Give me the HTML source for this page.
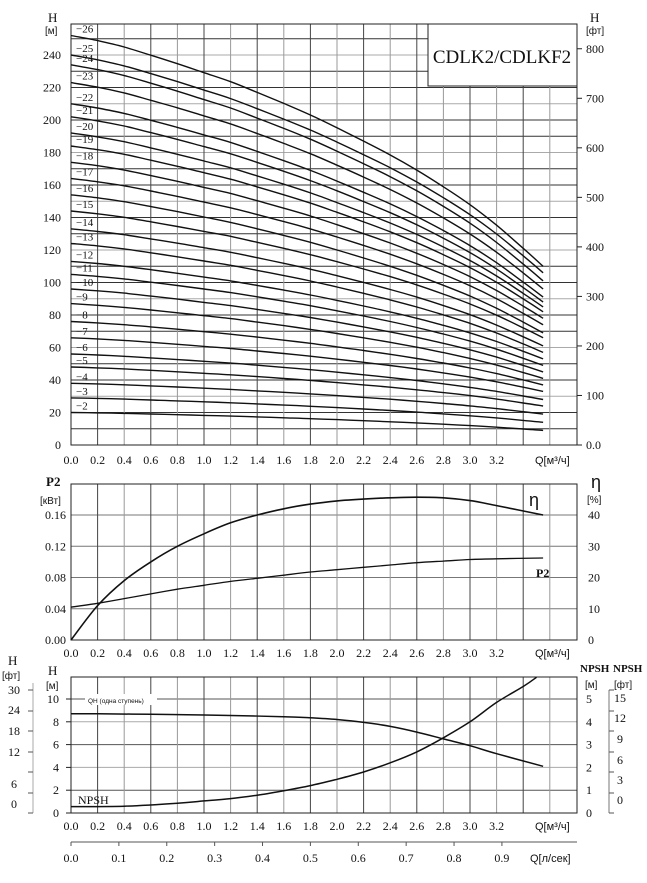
<!DOCTYPE html>
<html><head><meta charset="utf-8">
<style>
html,body{margin:0;padding:0;background:#fff;}
svg{display:block;}
text{font-family:"Liberation Serif",serif;fill:#111;}
.sans{font-family:"Liberation Sans",sans-serif;}
</style></head>
<body>
<svg id="chart" width="647" height="883" viewBox="0 0 647 883" xmlns="http://www.w3.org/2000/svg">
<g id="g-top"></g>
<g id="g-mid"></g>
<g id="g-bot"></g>
</svg>
<script>
// ---------- data ----------
const qTicks = [0.0,0.2,0.4,0.6,0.8,1.0,1.2,1.4,1.6,1.8,2.0,2.2,2.4,2.6,2.8,3.0,3.2];
const stages = [26,25,24,23,22,21,20,19,18,17,16,15,14,13,12,11,10,9,8,7,6,5,4,3,2];
const stageHeadStart = [252,240,234,223,210,202,192,184,174,164,154,144,133,124,113,105,96,87,76,66,56,48,38,29,20];
const stageHeadEnd = [110,106,101,96,91,88,85,82,78,74,69,66,61,57,53,49,45,41,37,33,28,24,19,14,9];
const dropQ = [0,0.2,0.4,0.6,0.8,1.0,1.2,1.4,1.6,1.8,2.0,2.2,2.4,2.6,2.8,3.0,3.2,3.4,3.55];
const dropFrac = [0,0.02,0.045,0.077,0.11,0.145,0.18,0.222,0.265,0.31,0.36,0.412,0.466,0.525,0.59,0.66,0.74,0.83,0.9];
const qhQ = [0,0.2,0.6,1.0,1.2,1.6,1.8,2.0,2.2,2.4,2.6,2.8,3.0,3.2,3.55];
const qhH = [8.7,8.7,8.66,8.6,8.55,8.45,8.35,8.2,7.95,7.6,7.1,6.5,5.9,5.2,4.1];
const effQ = [0,0.2,0.4,0.6,0.8,1.0,1.2,1.4,1.6,1.8,2.0,2.2,2.4,2.6,2.8,3.0,3.2,3.55];
const effVal = [0,11,19,25,30,34,37.5,40,42,43.5,44.5,45.1,45.5,45.7,45.5,44.6,43,40];
const p2Q = [0,0.2,0.4,0.6,0.8,1.0,1.2,1.4,1.6,1.8,2.0,2.2,2.4,2.6,2.8,3.0,3.2,3.55];
const p2Val = [0.042,0.047,0.053,0.059,0.065,0.070,0.075,0.079,0.083,0.087,0.090,0.093,0.096,0.099,0.101,0.103,0.104,0.105];
const npshQ = [0,0.4,0.8,1.0,1.2,1.4,1.6,1.8,2.0,2.2,2.4,2.6,2.8,3.0,3.2,3.4,3.5];
const npshVal = [0.28,0.3,0.43,0.53,0.63,0.78,0.98,1.2,1.48,1.8,2.2,2.68,3.3,4.0,4.85,5.55,5.95];
const hTopTicks = [0,20,40,60,80,100,120,140,160,180,200,220,240];
const ftTopTicks = [0,100,200,300,400,500,600,700,800];
const p2Ticks = [0,0.04,0.08,0.12,0.16];
const effTicks = [0,10,20,30,40];
const hBotTicks = [0,2,4,6,8,10];
const npshTicks = [0,1,2,3,4,5];
const lsTicks = [0.0,0.1,0.2,0.3,0.4,0.5,0.6,0.7,0.8,0.9];

// ---------- helpers ----------
const NS = "http://www.w3.org/2000/svg";
function mk(parent, tag, attrs, txt){
  const e = document.createElementNS(NS, tag);
  for (const k in attrs) e.setAttribute(k, attrs[k]);
  if (txt !== undefined) e.textContent = txt;
  parent.appendChild(e);
  return e;
}
const X0 = 71, X1 = 577, QPX = 133;
const xq = q => X0 + q * QPX;

function vgrid(g, yTop, yBot){
  for (let i = 1; i <= 18; i++) {
    const x = xq(i * 0.2);
    const l = mk(g, 'line', {x1:x, y1:yTop, x2:x, y2:yBot, stroke: i % 2 ? '#444' : '#999', 'stroke-width':1});
    
    
  }
}
function qAxisLabels(g, y){
  qTicks.forEach(q => {
    const t = mk(g, 'text', {x: xq(q), y: y, 'font-size': 12, 'text-anchor': 'middle'}, q.toFixed(1));
    
    
  });
  const t = mk(g, 'text', {x: 535, y: y, 'font-size': 11, class: 'sans'}, 'Q[м³/ч]');
  
  
}
function smoothD(pts){
  let d = 'M' + pts[0][0].toFixed(1) + ',' + pts[0][1].toFixed(1);
  for (let i = 0; i < pts.length - 1; i++) {
    const p0 = pts[i - 1] || pts[i], p1 = pts[i], p2 = pts[i + 1], p3 = pts[i + 2] || p2;
    const c1x = p1[0] + (p2[0] - p0[0]) / 6, c1y = p1[1] + (p2[1] - p0[1]) / 6;
    const c2x = p2[0] - (p3[0] - p1[0]) / 6, c2y = p2[1] - (p3[1] - p1[1]) / 6;
    d += 'C' + c1x.toFixed(1) + ',' + c1y.toFixed(1) + ' ' + c2x.toFixed(1) + ',' + c2y.toFixed(1) + ' ' + p2[0].toFixed(1) + ',' + p2[1].toFixed(1);
  }
  return d;
}
function path(g, qs, vs, fx, fy, w, name){
  const pts = qs.map((q, i) => [fx(q), fy(vs[i])]);
  const p = mk(g, 'path', {d: smoothD(pts), fill: 'none', stroke: '#111', 'stroke-width': w, 'stroke-linejoin': 'round'});
  
  
  return p;
}

// ---------- top chart ----------
(function(){
  const g = document.getElementById('g-top');
  const Y0 = 445, YT = 24, ym = h => Y0 - h * 1.625;
  for (let h = 10; h <= 250; h += 10) {
    const y = ym(h);
    const l = mk(g, 'line', {x1: X0, y1: y, x2: X1, y2: y, stroke: (h / 10) % 3 === 0 ? '#aaa' : '#333', 'stroke-width': 1});
    
    
  }
  vgrid(g, YT, Y0);
  const fr = mk(g, 'rect', {x: X0, y: YT, width: X1 - X0, height: Y0 - YT, fill: 'none', stroke: '#222', 'stroke-width': 1});
  
  
  const fEnd = dropFrac[dropFrac.length - 1];
  stages.forEach((n, i) => {
    const h0 = stageHeadStart[i], he = stageHeadEnd[i];
    const vals = dropFrac.map(f => h0 - (h0 - he) * f / fEnd);
    path(g, dropQ, vals, xq, ym, 1.4, 'head-curve-stage-' + n);
    const t = mk(g, 'text', {x: 76, y: ym(h0) - 3, 'font-size': 11}, '−' + n);
    
    
  });
  const box = mk(g, 'rect', {x: 428, y: YT, width: X1 - 428, height: 62, fill: '#fff', stroke: '#222', 'stroke-width': 1});
  
  
  const tt = mk(g, 'text', {x: 502, y: 63, 'font-size': 19, 'text-anchor': 'middle'}, 'CDLK2/CDLKF2');
  
  
  hTopTicks.forEach(h => {
    const t = mk(g, 'text', {x: 61, y: ym(h) + 4, 'font-size': 12, 'text-anchor': 'end'}, h);
    
    
  });
  let t = mk(g, 'text', {x: 48, y: 22, 'font-size': 13}, 'H');
   
  t = mk(g, 'text', {x: 45, y: 34, 'font-size': 10, class: 'sans'}, '[м]');
   
  ftTopTicks.forEach(f => {
    const y = Y0 - f * 0.3048 * 1.625;
    const l = mk(g, 'line', {x1: X1, y1: y, x2: X1 + 5, y2: y, stroke: '#222'});
     
    const tx = mk(g, 'text', {x: 586, y: y + 4, 'font-size': 12}, f === 0 ? '0.0' : f);
     
  });
  t = mk(g, 'text', {x: 590, y: 22, 'font-size': 13}, 'H');
   
  t = mk(g, 'text', {x: 586, y: 34, 'font-size': 10, class: 'sans'}, '[фт]');
   
  qAxisLabels(g, 464);
})();

// ---------- middle chart ----------
(function(){
  const g = document.getElementById('g-mid');
  const Y0 = 640, YT = 484, yp = p => Y0 - p * 781.25, ye = e => Y0 - e * 3.125;
  p2Ticks.forEach(p => {
    if (p === 0) return;
    const l = mk(g, 'line', {x1: X0, y1: yp(p), x2: X1, y2: yp(p), stroke: '#777'});
     
  });
  vgrid(g, YT, Y0);
  const fr = mk(g, 'rect', {x: X0, y: YT, width: X1 - X0, height: Y0 - YT, fill: 'none', stroke: '#222'});
   
  path(g, effQ, effVal, xq, ye, 1.6, 'efficiency-curve');
  path(g, p2Q, p2Val, xq, yp, 1.3, 'power-curve');
  p2Ticks.forEach(p => {
    const t = mk(g, 'text', {x: 66, y: yp(p) + 4, 'font-size': 12, 'text-anchor': 'end'}, p.toFixed(2));
     
  });
  effTicks.forEach(e => {
    const t = mk(g, 'text', {x: 588, y: ye(e) + 4, 'font-size': 12}, e);
     
  });
  let t = mk(g, 'text', {x: 46, y: 486, 'font-size': 13, 'font-weight': 'bold'}, 'P2');
   
  t = mk(g, 'text', {x: 40, y: 504, 'font-size': 10, class: 'sans'}, '[кВт]');
   
  t = mk(g, 'text', {x: 591, y: 488, 'font-size': 18, class: 'sans'}, 'η');
   
  t = mk(g, 'text', {x: 587, y: 503, 'font-size': 10, class: 'sans'}, '[%]');
   
  t = mk(g, 'text', {x: 529, y: 506, 'font-size': 18, class: 'sans'}, 'η');
   
  t = mk(g, 'text', {x: 536, y: 577, 'font-size': 12, 'font-weight': 'bold'}, 'P2');
   
  qAxisLabels(g, 657);
})();

// ---------- bottom chart ----------
(function(){
  const g = document.getElementById('g-bot');
  const Y0 = 813, YT = 677, yh = h => Y0 - h * 11.4, yn = n => Y0 - n * 22.8;
  hBotTicks.forEach(h => {
    if (h === 0) return;
    const l = mk(g, 'line', {x1: X0, y1: yh(h), x2: X1, y2: yh(h), stroke: h % 4 === 0 ? '#aaa' : '#555'});
     
  });
  vgrid(g, YT, Y0);
  const fr = mk(g, 'rect', {x: X0, y: YT, width: X1 - X0, height: Y0 - YT, fill: 'none', stroke: '#222'});
   
  const wb = mk(g, 'rect', {x: 85, y: 694, width: 72, height: 11, fill: '#fff'});
   
  let t = mk(g, 'text', {x: 88, y: 703, 'font-size': 6.5, class: 'sans'}, 'QH (одна ступень)');
   
  path(g, qhQ, qhH, xq, yh, 1.5, 'qh-single-stage-curve');
  path(g, npshQ, npshVal, xq, yn, 1.5, 'npsh-curve');
  t = mk(g, 'text', {x: 78, y: 804, 'font-size': 12}, 'NPSH');
   
  hBotTicks.forEach(h => {
    const t2 = mk(g, 'text', {x: 59, y: yh(h) + 4, 'font-size': 12, 'text-anchor': 'end'}, h);
     
    const l = mk(g, 'line', {x1: X0 - 5, y1: yh(h), x2: X0, y2: yh(h), stroke: '#222'});
     
  });
  npshTicks.forEach(n => {
    const t2 = mk(g, 'text', {x: 586, y: yn(n) + 4, 'font-size': 12}, n);
     
  });
  t = mk(g, 'text', {x: 48, y: 675, 'font-size': 13}, 'H');
   
  t = mk(g, 'text', {x: 46, y: 689, 'font-size': 10, class: 'sans'}, '[м]');
   
  let l = mk(g, 'line', {x1: 33, y1: 683, x2: 33, y2: 813, stroke: '#aaa'});
   
  [690,711,731,752,772,793,813].forEach(y => {
    const tk = mk(g, 'line', {x1: 28, y1: y, x2: 33, y2: y, stroke: '#555'});
     
  });
  [['30',694],['24',714],['18',735],['12',756],['6',788],['0',808]].forEach(a => {
    const t2 = mk(g, 'text', {x: 14, y: a[1], 'font-size': 12, 'text-anchor': 'middle'}, a[0]);
     
  });
  t = mk(g, 'text', {x: 8, y: 665, 'font-size': 13}, 'H');
   
  t = mk(g, 'text', {x: 2, y: 679, 'font-size': 10, class: 'sans'}, '[фт]');
   
  t = mk(g, 'text', {x: 580, y: 672, 'font-size': 11, 'font-weight': 'bold'}, 'NPSH');
   
  t = mk(g, 'text', {x: 585, y: 688, 'font-size': 10, class: 'sans'}, '[м]');
   
  t = mk(g, 'text', {x: 613, y: 672, 'font-size': 11, 'font-weight': 'bold'}, 'NPSH');
   
  t = mk(g, 'text', {x: 614, y: 688, 'font-size': 10, class: 'sans'}, '[фт]');
   
  l = mk(g, 'line', {x1: 609, y1: 690, x2: 609, y2: 813, stroke: '#777'});
   
  [690,711,731,752,772,793,813].forEach(y => {
    const tk = mk(g, 'line', {x1: 609, y1: y, x2: 614, y2: y, stroke: '#555'});
     
  });
  [['15',702],['12',722],['9',743],['6',764],['3',784],['0',804]].forEach(a => {
    const t2 = mk(g, 'text', {x: 620, y: a[1], 'font-size': 12, 'text-anchor': 'middle'}, a[0]);
     
  });
  qAxisLabels(g, 830);
  l = mk(g, 'line', {x1: X0, y1: 842, x2: X1, y2: 842, stroke: '#555'});
   
  lsTicks.forEach(v => {
    const x = xq(v * 3.6);
    const tk = mk(g, 'line', {x1: x, y1: 842, x2: x, y2: 846, stroke: '#555'});
     
    const t2 = mk(g, 'text', {x: x, y: 862, 'font-size': 12, 'text-anchor': 'middle'}, v.toFixed(1));
     
  });
  t = mk(g, 'text', {x: 530, y: 862, 'font-size': 11, class: 'sans'}, 'Q[л/сек]');
   
})();
</script>
</body></html>
